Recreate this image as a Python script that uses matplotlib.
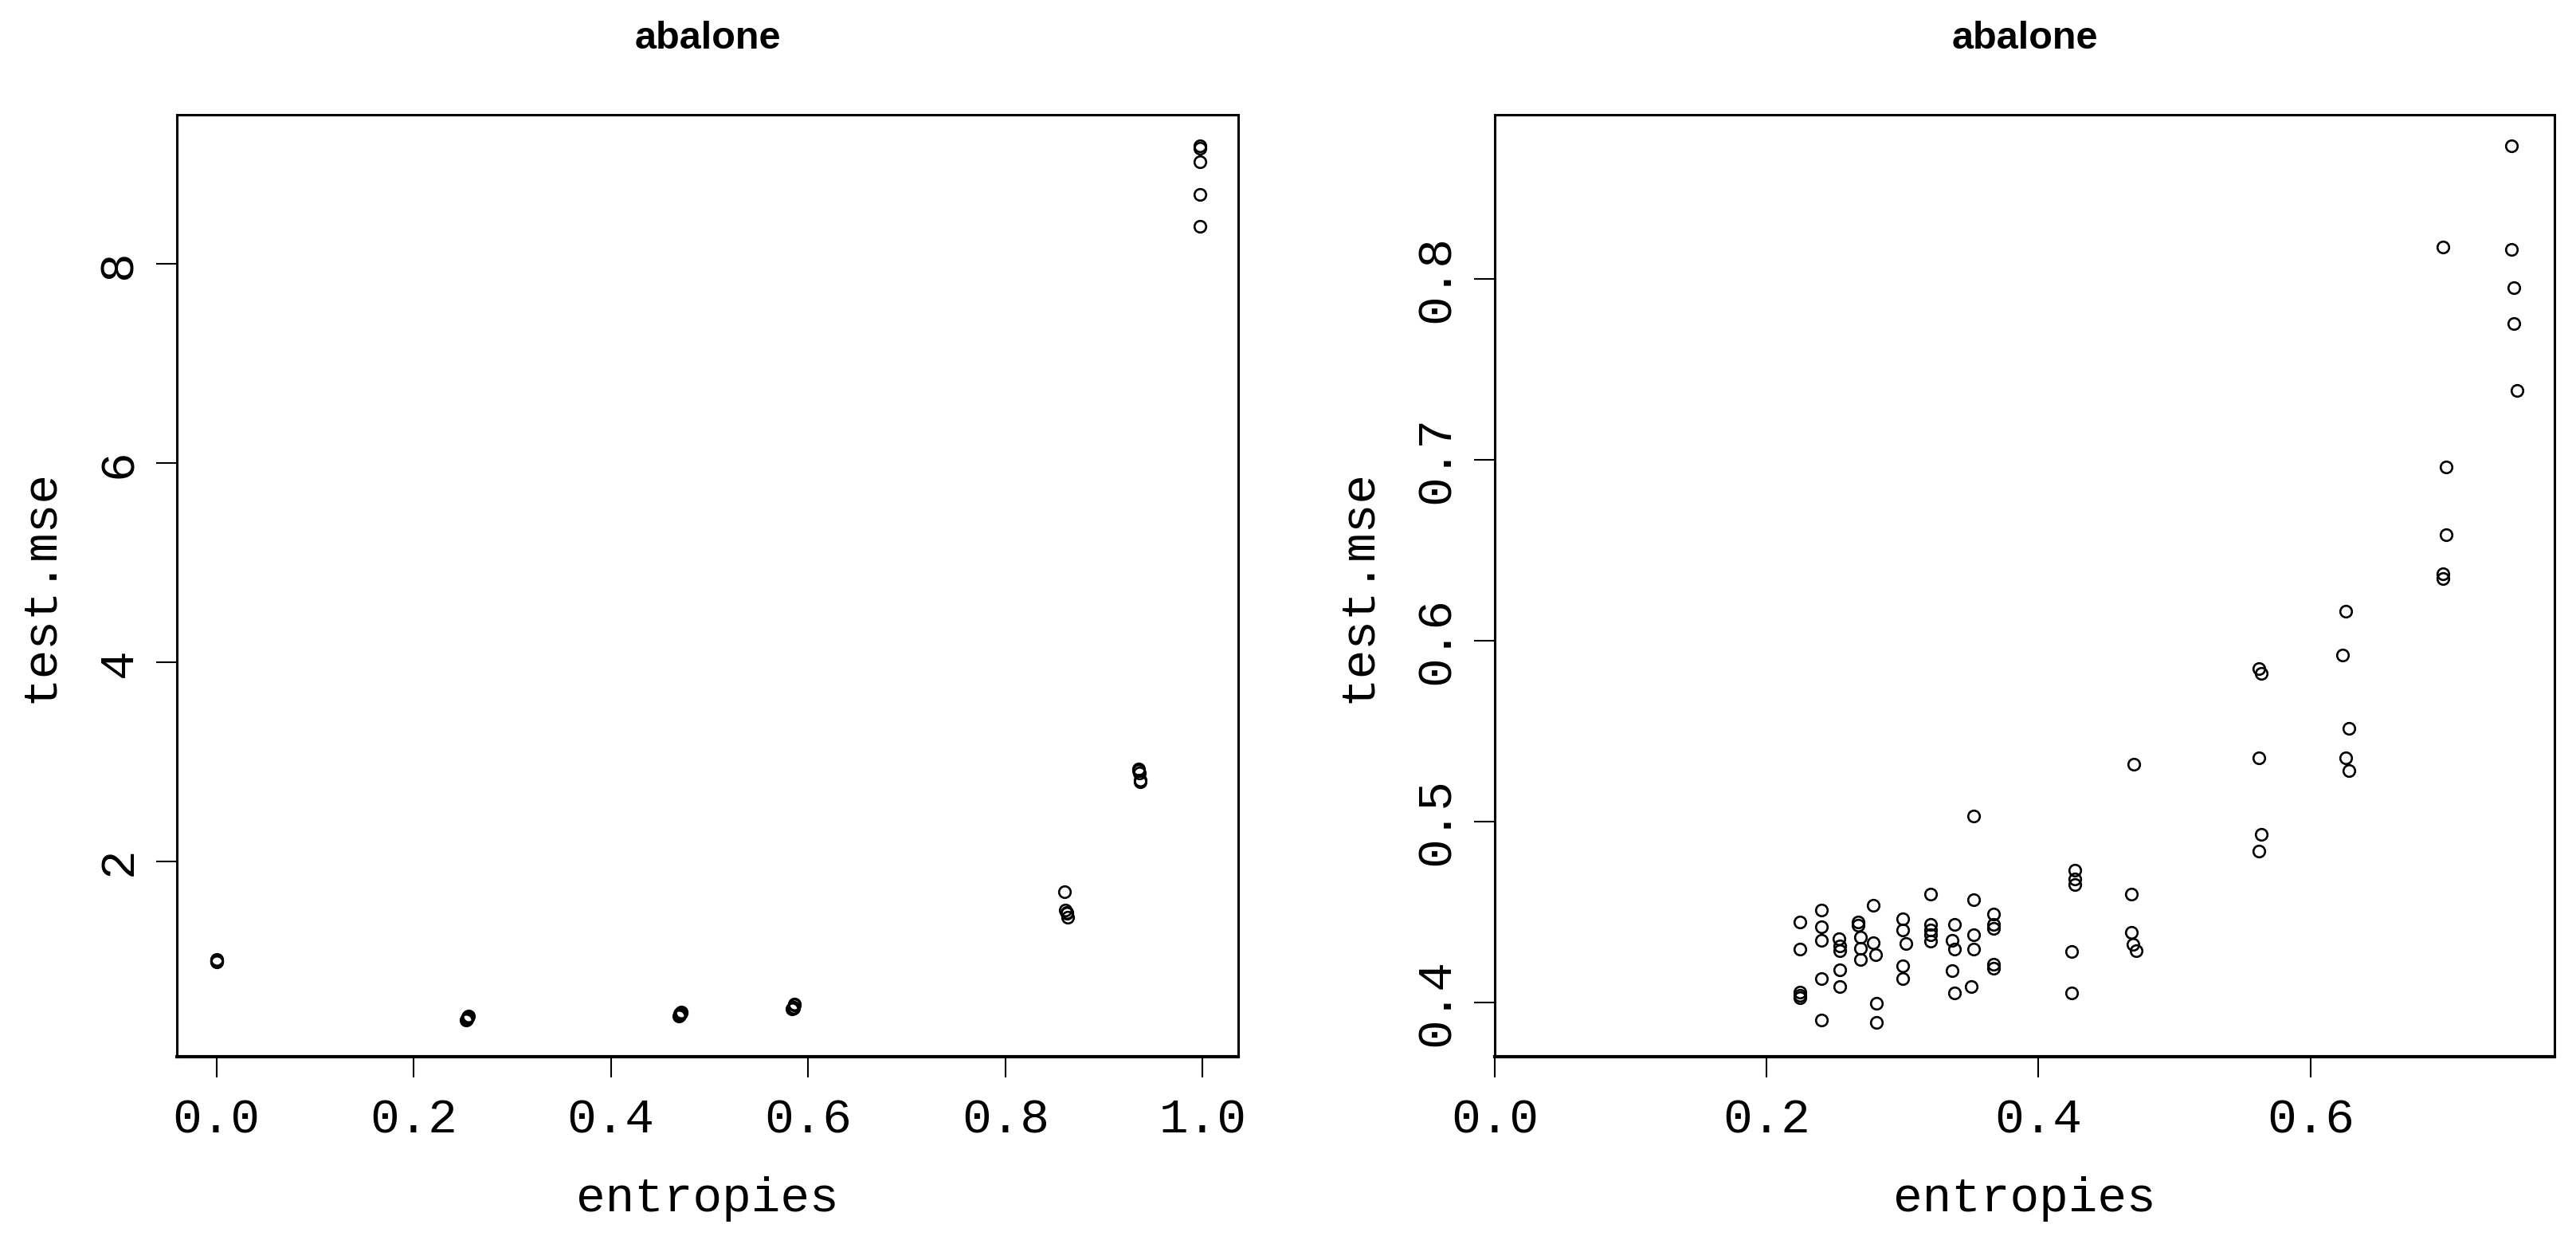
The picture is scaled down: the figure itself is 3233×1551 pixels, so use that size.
import matplotlib.pyplot as plt
import numpy as np

W, H = 3233, 1551

# left panel: all datasets
left_x = [0.0, 0.0, 0.0, 0.0, 0.0,
          0.253, 0.254, 0.255, 0.255, 0.256,
          0.469, 0.470, 0.470, 0.471, 0.471,
          0.584, 0.585, 0.585, 0.586, 0.586,
          0.860, 0.861, 0.862, 0.862, 0.863,
          0.935, 0.935, 0.936, 0.937, 0.937,
          0.997, 0.997, 0.997, 0.997, 0.997]
left_y = [0.99, 1.00, 1.00, 1.01, 1.02,
          0.41, 0.42, 0.43, 0.44, 0.45,
          0.45, 0.46, 0.47, 0.48, 0.49,
          0.52, 0.53, 0.54, 0.56, 0.57,
          1.70, 1.51, 1.49, 1.48, 1.44,
          2.93, 2.91, 2.89, 2.82, 2.80,
          9.19, 9.16, 9.03, 8.70, 8.38]

# right panel
right_x = [0.2247, 0.2247, 0.2247, 0.2247, 0.2247,
           0.2402, 0.2402, 0.2402, 0.2402, 0.2402,
           0.2530, 0.2540, 0.2540, 0.2540, 0.2540,
           0.2674, 0.2674, 0.2690, 0.2690, 0.2690,
           0.2785, 0.2785, 0.2800, 0.2806, 0.2806,
           0.3003, 0.3003, 0.3024, 0.3003, 0.3003,
           0.3203, 0.3203, 0.3203, 0.3203, 0.3203,
           0.3382, 0.3367, 0.3382, 0.3364, 0.3382,
           0.3523, 0.3523, 0.3523, 0.3523, 0.3502,
           0.3666, 0.3666, 0.3666, 0.3666, 0.3666,
           0.4264, 0.4264, 0.4264, 0.4243, 0.4243,
           0.4703, 0.4682, 0.4682, 0.4697, 0.4718,
           0.5623, 0.5639, 0.5623, 0.5639, 0.5623,
           0.6259, 0.6238, 0.6280, 0.6259, 0.6280,
           0.6977, 0.6997, 0.6997, 0.6977, 0.6977,
           0.7478, 0.7478, 0.7498, 0.7498, 0.7519]
right_y = [0.4447, 0.4297, 0.4057, 0.4040, 0.4028,
           0.4510, 0.4418, 0.4344, 0.4131, 0.3903,
           0.4351, 0.4314, 0.4285, 0.4182, 0.4087,
           0.4447, 0.4429, 0.4359, 0.4300, 0.4238,
           0.4538, 0.4329, 0.4266, 0.3996, 0.3891,
           0.4462, 0.4403, 0.4326, 0.4204, 0.4131,
           0.4597, 0.4432, 0.4403, 0.4373, 0.4337,
           0.4432, 0.4344, 0.4296, 0.4175, 0.4054,
           0.5032, 0.4567, 0.4373, 0.4296, 0.4087,
           0.4491, 0.4432, 0.4410, 0.4212, 0.4190,
           0.4733, 0.4682, 0.4653, 0.4281, 0.4054,
           0.5319, 0.4597, 0.4388, 0.4322, 0.4285,
           0.5848, 0.5820, 0.5352, 0.4930, 0.4839,
           0.6164, 0.5921, 0.5517, 0.5352, 0.5282,
           0.8179, 0.6962, 0.6586, 0.6372, 0.6344,
           0.8738, 0.8165, 0.7954, 0.7757, 0.7384]

left_xticks = [0.0, 0.2, 0.4, 0.6, 0.8, 1.0]
left_yticks = [2, 4, 6, 8]
right_xticks = [0.0, 0.2, 0.4, 0.6]
right_yticks = [0.4, 0.5, 0.6, 0.7, 0.8]

mono = "Liberation Mono"
sans = "Liberation Sans"

fig = plt.figure(figsize=(W / 100, H / 100), dpi=100)
ax1 = fig.add_axes([222 / W, 1 - 1326 / H, (1554 - 222) / W, (1326 - 144) / H])
ax2 = fig.add_axes([1876 / W, 1 - 1326 / H, (3206 - 1876) / W, (1326 - 144) / H])


def style(ax, xs, ys, xticks, yticks, xfmt, yfmt, xlim, ylim):
    ax.plot(xs, ys, "o", mfc="none", mec="black", ms=10.5, mew=1.9)
    ax.set_xlim(*xlim)
    ax.set_ylim(*ylim)
    ax.set_xticks(xticks)
    ax.set_xticklabels([xfmt % t for t in xticks], family=mono, fontsize=44)
    ax.set_yticks(yticks)
    ax.set_yticklabels([yfmt % t for t in yticks], family=mono, fontsize=44,
                       rotation=90, va="center")
    ax.tick_params(length=19, width=1.5, direction="out")
    ax.tick_params(axis="x", pad=18)
    ax.tick_params(axis="y", pad=13)
    for s in ax.spines.values():
        s.set_linewidth(2.2)
    ax.spines["bottom"].set_linewidth(3)
    ax.set_xlabel("entropies", family=mono, fontsize=44, labelpad=30)
    ax.set_ylabel("test.mse", family=mono, fontsize=44, labelpad=30)
    ax.set_title("abalone", family=sans, fontweight="bold", fontsize=35, pad=60)


style(ax1, left_x, left_y, left_xticks, left_yticks, "%.1f", "%d",
      (-0.04, 1.036), (0.04, 9.5))
style(ax2, right_x, right_y, right_xticks, right_yticks, "%.1f", "%.1f",
      (0.0, 0.7795), (0.370, 0.891))

fig.savefig("out.png", dpi=100)
